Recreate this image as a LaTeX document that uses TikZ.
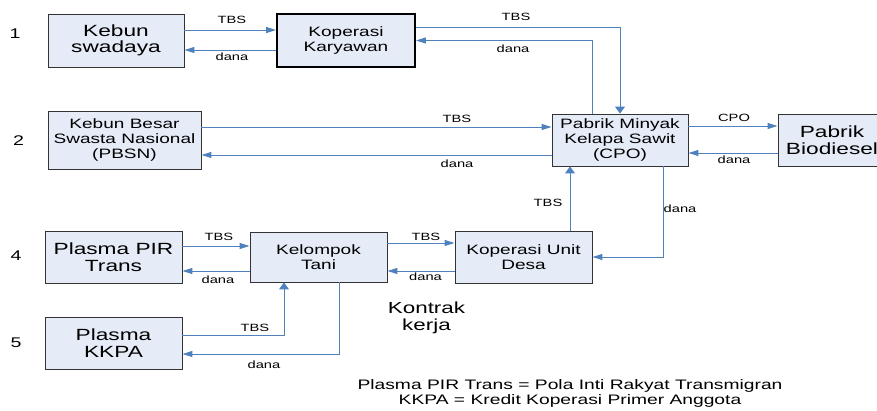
\documentclass[tikz,border=0pt]{standalone}
\usepackage{fontspec}
\setmainfont{Liberation Sans}[FakeStretch=1.4]
\usetikzlibrary{arrows.meta}
\definecolor{boxfill}{HTML}{E6ECF7}
\definecolor{arrblue}{HTML}{4F81BD}
\begin{document}
\begin{tikzpicture}[x=1pt,y=-1pt,
  box/.style={draw=black!80, line width=0.9pt, fill=boxfill, inner sep=0pt, align=center},
  big/.style={font=\fontsize{16.2}{16.5}\selectfont},
  small/.style={font=\fontsize{13.6}{15}\selectfont},
  lbl/.style={font=\fontsize{10.5}{12}\selectfont, inner sep=0pt},
  num/.style={font=\fontsize{14}{16}\selectfont, inner sep=0pt},
  flow/.style={draw=arrblue, line width=1pt, -{Triangle[length=10pt,width=6pt]}},
  vflow/.style={draw=arrblue, line width=1pt, -{Triangle[length=7pt,width=10pt]}},
]
\useasboundingbox (0,0) rectangle (877,410);

% boxes
\node[box,big,minimum width=136pt,minimum height=53pt] (sw) at (116,40.5) {Kebun\\swadaya};
\node[box,small,line width=1.8pt,draw=black,minimum width=138pt,minimum height=53pt] (kk) at (346,40.5) {Koperasi\\Karyawan};
\node[box,small,minimum width=153pt,minimum height=58pt] (pbsn) at (124.5,140) {Kebun Besar\\Swasta Nasional\\(PBSN)};
\node[box,small,minimum width=136pt,minimum height=52pt] (pmks) at (620,140) {Pabrik Minyak\\Kelapa Sawit\\(CPO)};
\node[box,big,minimum width=108pt,minimum height=52pt] (bio) at (832,140) {Pabrik\\Biodiesel};
\node[box,big,minimum width=137pt,minimum height=52pt] (pir) at (113.5,257) {Plasma PIR\\Trans};
\node[box,small,minimum width=137pt,minimum height=50pt] (kt) at (318.5,257) {Kelompok\\Tani};
\node[box,small,minimum width=137pt,minimum height=52pt] (kud) at (523.5,257) {Koperasi Unit\\Desa};
\node[box,big,minimum width=137pt,minimum height=52pt] (kkpa) at (113.5,343) {Plasma\\KKPA};

% row numbers
\node[num] (n1) at (15,34) {1};
\node[num] (n2) at (18.5,141) {2};
\node[num] (n4) at (16,256) {4};
\node[num] (n5) at (16,342.5) {5};

% connectors
\draw[flow] ([yshift=10.5pt]sw.east) -- ([yshift=10.5pt]kk.west);
\draw[flow] ([yshift=-9.5pt]kk.west) -- ([yshift=-9.5pt]sw.east);
\draw[vflow] ([yshift=13.5pt]kk.east) -| (pmks.north);
\draw[flow] ([xshift=-28pt]pmks.north) |- (kk.east);
\draw[flow] ([yshift=13pt]pbsn.east) -- ([yshift=13pt]pmks.west);
\draw[flow] ([yshift=-15pt]pmks.west) -- ([yshift=-15pt]pbsn.east);
\draw[flow] ([yshift=14pt]pmks.east) -- ([yshift=14pt]bio.west);
\draw[flow] ([yshift=-13pt]bio.west) -- ([yshift=-13pt]pmks.east);
\draw[vflow] ([xshift=46.5pt]kud.north) -- ([xshift=46.5pt]kud.north |- pmks.south);
\draw[flow] ([xshift=43pt]pmks.south) |- (kud.east);
\draw[flow] ([yshift=14pt]kt.east) -- ([yshift=14pt]kud.west);
\draw[flow] ([yshift=-14pt]kud.west) -- ([yshift=-14pt]kt.east);
\draw[flow] ([yshift=11pt]pir.east) -- ([yshift=11pt]kt.west);
\draw[flow] ([yshift=-14pt]kt.west) -- ([yshift=-14pt]pir.east);
\draw[vflow] ([yshift=8pt]kkpa.east) -| ([xshift=-34.5pt]kt.south);
\draw[flow] ([xshift=20.5pt]kt.south) |- ([yshift=-11pt]kkpa.east);

% connector labels
\node[lbl] (l1) at (232,19.5) {TBS};
\node[lbl] (l2) at (232,56.5) {dana};
\node[lbl] (l3) at (516,16.5) {TBS};
\node[lbl] (l4) at (513,49) {dana};
\node[lbl] (l5) at (457,119) {TBS};
\node[lbl] (l6) at (457,164) {dana};
\node[lbl] (l7) at (734,118) {CPO};
\node[lbl] (l8) at (734,159.5) {dana};
\node[lbl] (l9) at (548,203) {TBS};
\node[lbl] (l10) at (680,209) {dana};
\node[lbl] (l11) at (426,237) {TBS};
\node[lbl] (l12) at (425.5,277) {dana};
\node[lbl] (l13) at (219,237) {TBS};
\node[lbl] (l14) at (218,279.5) {dana};
\node[lbl] (l15) at (255,327.5) {TBS};
\node[lbl] (l16) at (264,364.5) {dana};

% free texts
\node[font=\fontsize{16}{16.5}\selectfont, align=center, inner sep=0pt] (kontrak) at (426.5,318) {Kontrak\\kerja};
\node[font=\fontsize{13.75}{15}\selectfont, align=center, inner sep=0pt] (legend) at (570,393) {Plasma PIR Trans = Pola Inti Rakyat Transmigran\\KKPA = Kredit Koperasi Primer Anggota};
\end{tikzpicture}
\end{document}
